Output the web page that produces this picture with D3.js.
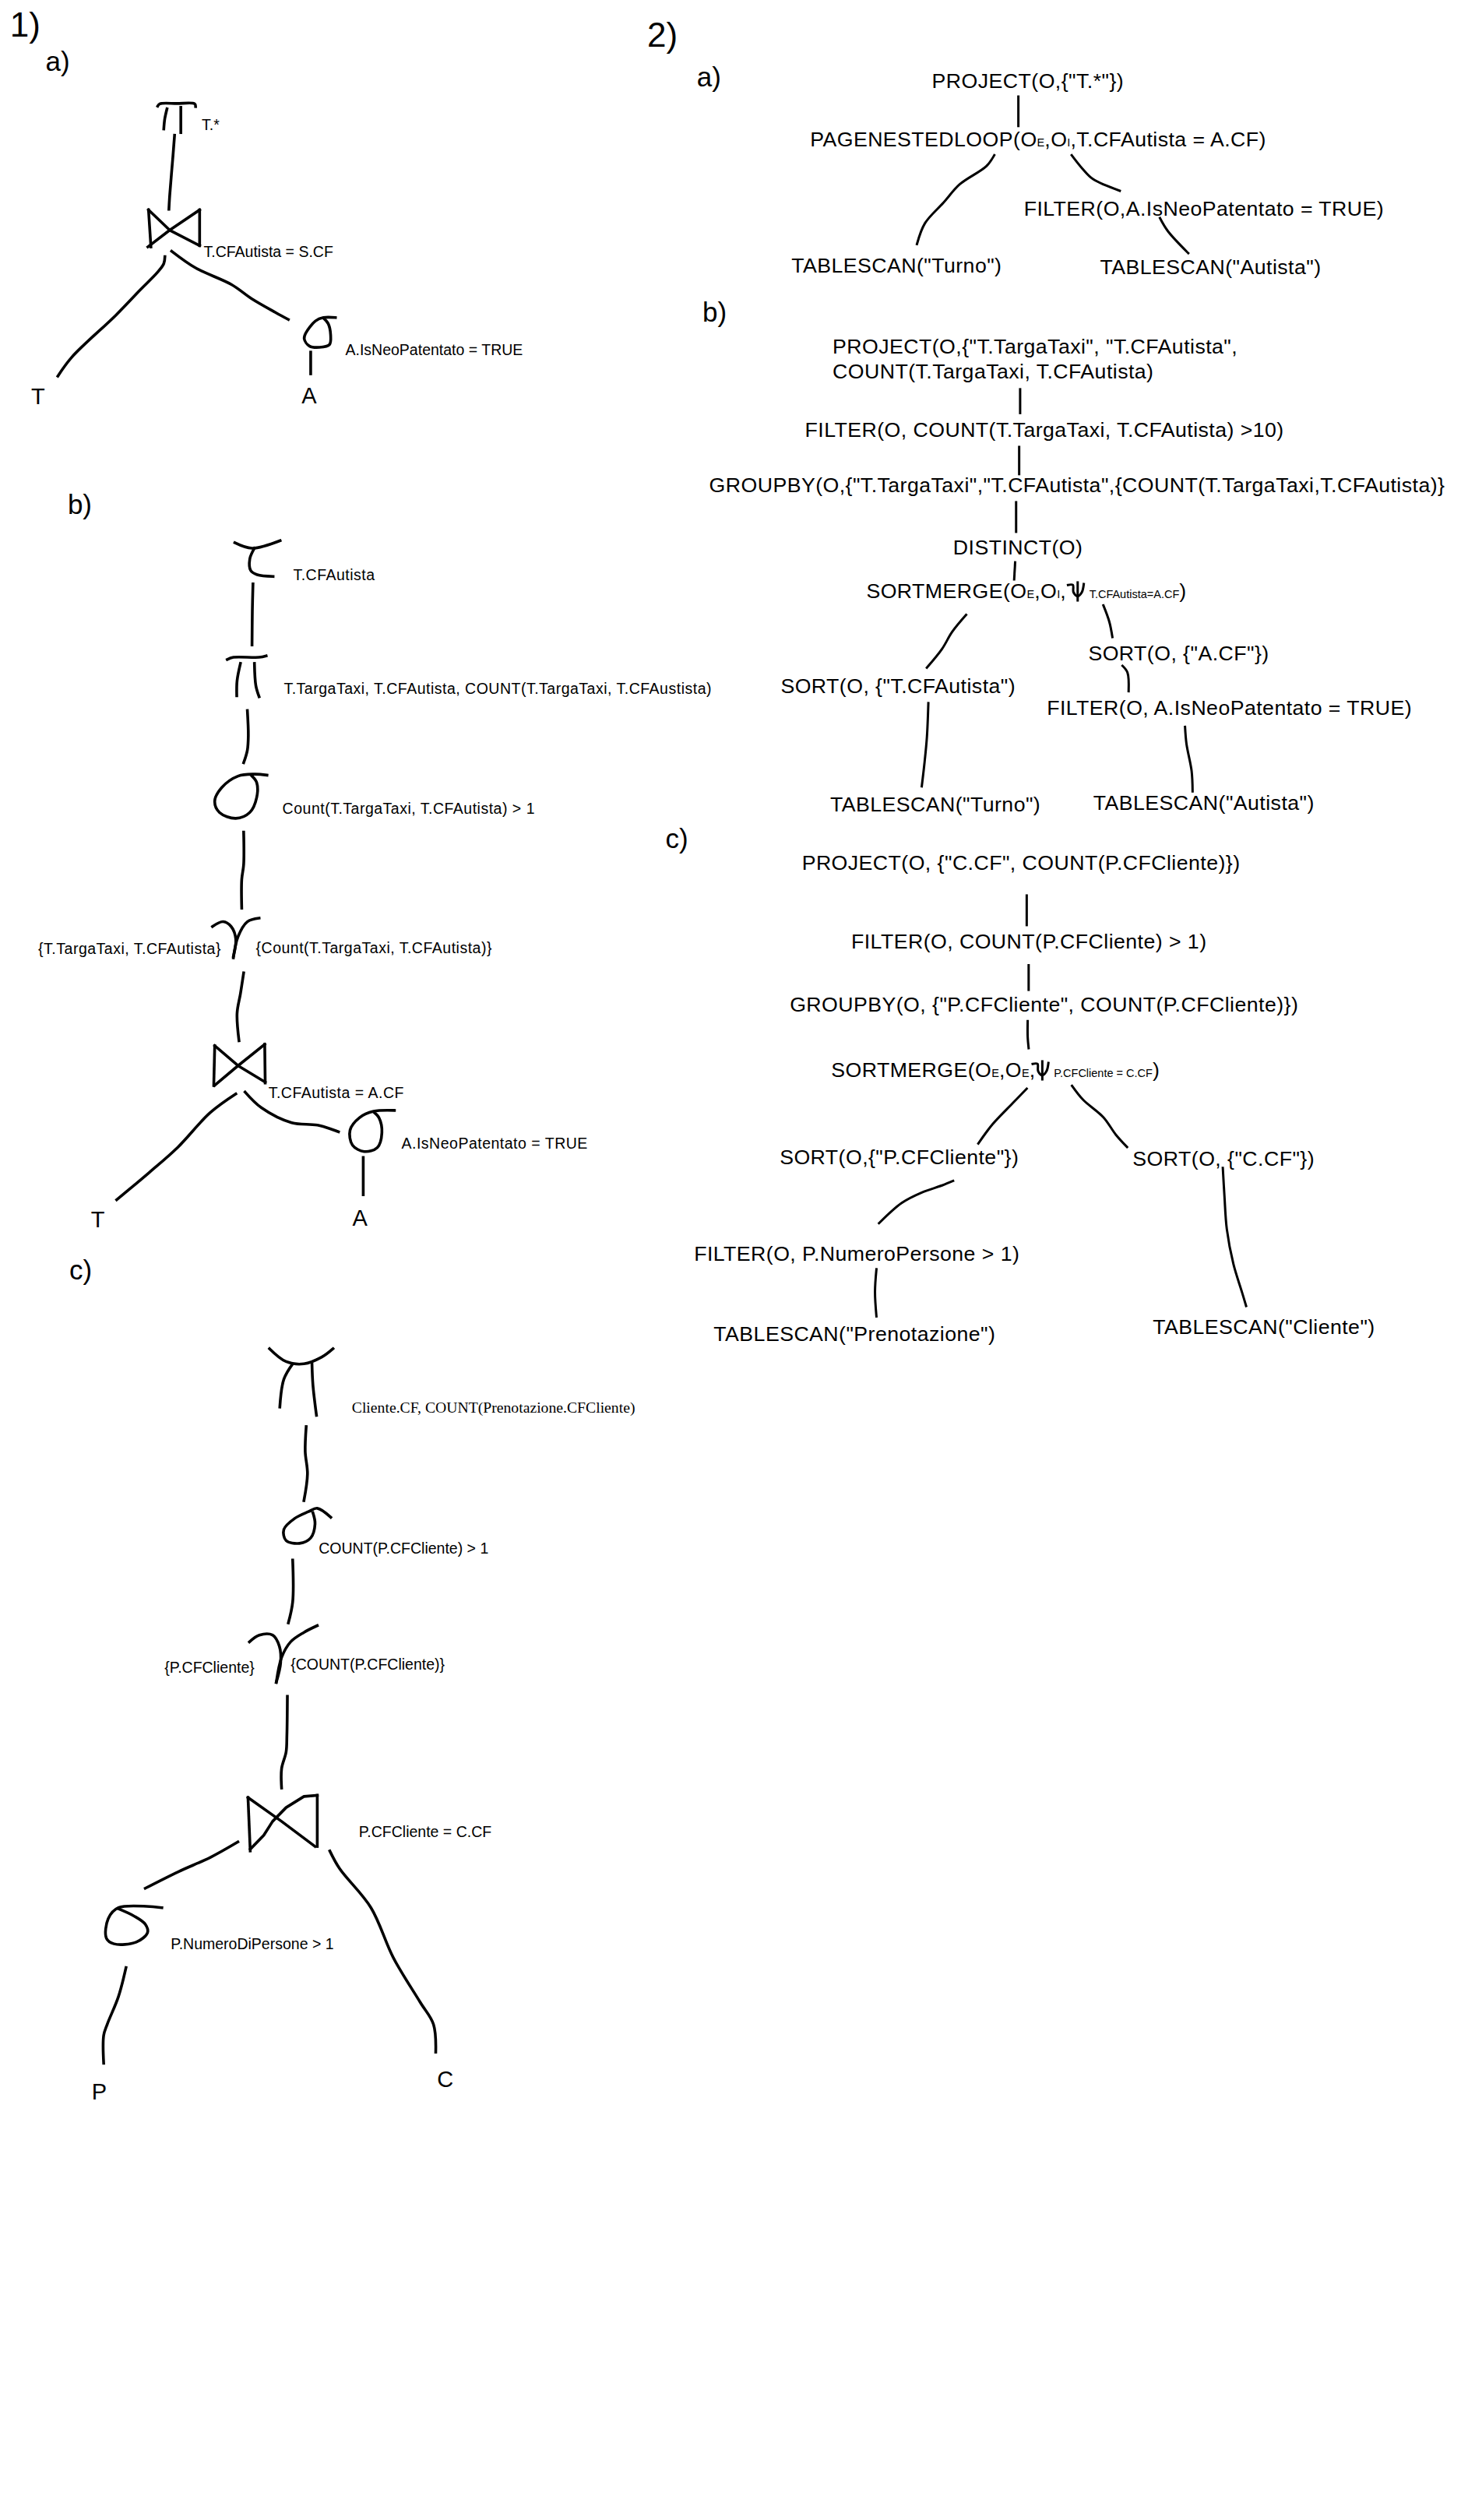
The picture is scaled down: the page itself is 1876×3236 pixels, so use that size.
<!DOCTYPE html>
<html>
<head>
<meta charset="utf-8">
<script src="https://cdn.jsdelivr.net/npm/d3@7"></script>
<style>
  body { margin: 0; background: #fff; }
  text { fill: #000; }
</style>
</head>
<body>
<div id="divChart"></div>
<script>
// coordinates below are in units of the reference sheet (909 x 1568), mapped by the scales
var heads = ["1)", "a)", "b)", "c)", "2)", "a)", "b)", "c)"];
var headAt = [[6.2, 22.6], [28.4, 44.3], [42.1, 320], [43.1, 796], [402.7, 29.1], [433.6, 53.6], [437.1, 199.9], [414, 527.8]];
var headBig = [1, 0, 0, 0, 1, 0, 0, 0];

// relations at the leaves of the algebra trees
var relations = ["T", "A", "T", "A", "P", "C"];
var relationAt = [[19.4, 251.7], [187.6, 250.9], [56.6, 763.5], [219.3, 762.9], [57, 1306.3], [272, 1298.4]];

// notes next to the operators (1a, 1b, 1c)
var raNotes = [
    "T.*", "T.CFAutista = S.CF", "A.IsNeoPatentato = TRUE",
    "T.CFAutista", "T.TargaTaxi, T.CFAutista, COUNT(T.TargaTaxi, T.CFAustista)",
    "Count(T.TargaTaxi, T.CFAutista) > 1", "{T.TargaTaxi, T.CFAutista}",
    "{Count(T.TargaTaxi, T.CFAutista)}", "T.CFAutista = A.CF", "A.IsNeoPatentato = TRUE",
    "Cliente.CF, COUNT(Prenotazione.CFCliente)", "COUNT(P.CFCliente) > 1", "{P.CFCliente}",
    "{COUNT(P.CFCliente)}", "P.CFCliente = C.CF", "P.NumeroDiPersone > 1"
];
var raNoteTree = ["a", "a", "a", "b", "b", "b", "b", "b", "b", "b", "c", "c", "c", "c", "c", "c"];
var raNoteAt = [
    [125.5, 80.7], [126.7, 160], [214.9, 220.8],
    [182.4, 361.2], [176.6, 431.9],
    [175.7, 506.4], [23.8, 593.6],
    [159.2, 593], [167, 683.2], [249.8, 714.7],
    [218.9, 879], [198.3, 966.5], [102.3, 1041],
    [180.8, 1038.9], [223.3, 1143], [106.2, 1212.9]
];
var raSerif = "Cliente.CF, COUNT(Prenotazione.CFCliente)";

// physical plans (2a, 2b, 2c)
var planText = [
    'PROJECT(O,{"T.*"})', 'FILTER(O,A.IsNeoPatentato = TRUE)', 'TABLESCAN("Turno")', 'TABLESCAN("Autista")',
    'PROJECT(O,{"T.TargaTaxi", "T.CFAutista",', 'COUNT(T.TargaTaxi, T.CFAutista)',
    'FILTER(O, COUNT(T.TargaTaxi, T.CFAutista) >10)',
    'GROUPBY(O,{"T.TargaTaxi","T.CFAutista",{COUNT(T.TargaTaxi,T.CFAutista)}',
    'DISTINCT(O)', 'SORT(O, {"A.CF"})', 'SORT(O, {"T.CFAutista")',
    'FILTER(O, A.IsNeoPatentato = TRUE)', 'TABLESCAN("Turno")', 'TABLESCAN("Autista")',
    'PROJECT(O, {"C.CF", COUNT(P.CFCliente)})', 'FILTER(O, COUNT(P.CFCliente) > 1)',
    'GROUPBY(O, {"P.CFCliente", COUNT(P.CFCliente)})', 'SORT(O,{"P.CFCliente"})', 'SORT(O, {"C.CF"})',
    'FILTER(O, P.NumeroPersone > 1)', 'TABLESCAN("Prenotazione")', 'TABLESCAN("Cliente")'
];
var planAt = [
    [579.8, 54.9], [637, 134.1], [492.4, 169.6], [684.4, 170.4],
    [518, 220], [518, 235.4],
    [500.8, 271.8],
    [441.2, 306.2],
    [593, 345], [677.1, 411.1], [485.7, 431.2],
    [651.3, 445], [516.5, 505.1], [680.2, 504.1],
    [498.9, 541.3], [529.6, 590.2],
    [491.4, 629.3], [485.1, 724.5], [704.7, 725.6],
    [431.8, 784.3], [444, 834.3], [717.2, 830]
];

// join operators with subscripts: [text, isSubscript]
var joinText = [
    [["PAGENESTEDLOOP(O", 0], ["E", 1], [",O", 0], ["I", 1], [",T.CFAutista = A.CF)", 0]],
    [["SORTMERGE(O", 0], ["E", 1], [",O", 0], ["I", 1], [",", 0], ["T.CFAutista=A.CF", 1], [")", 0]],
    [["SORTMERGE(O", 0], ["E", 1], [",O", 0], ["E", 1], [",", 0], ["P.CFCliente = C.CF", 1], [")", 0]]
];
var joinAt = [[504, 91.3], [539, 372.1], [517.1, 670.2]];
var joinPredAt = [null, 677.7, 655.7];   // where the predicate starts, after the psi
var psiAt = [[664.5, 372], [642.5, 670]];

// hand drawn edges of the algebra trees
var raEdges = [
    [[108.6, 84.2], [107.6, 97.2], [105.6, 121.5], [105.1, 130.2]],
    [[102.6, 159.7], [101.9, 164], [98.1, 169.3], [87, 180.6], [72, 196.2], [44.7, 222.2], [36, 234]],
    [[106.8, 156.3], [121.7, 166.7], [144.1, 177.1], [156.5, 185.8], [171.4, 194.4], [179.4, 198.8]],
    [[193.3, 219.1], [193.3, 232.6]],
    [[157.4, 363.3], [157, 380], [156.8, 401.3]],
    [[153.9, 442.1], [154.5, 457.6], [153.9, 466.8], [151.6, 474.6]],
    [[151.6, 517.8], [151.6, 537.9], [150.4, 547.2], [150.4, 565.1]],
    [[151.6, 605.3], [149.6, 618.3], [147.5, 630.6], [148.7, 647.6]],
    [[146.7, 680.7], [130.7, 692.4], [110.4, 714.1], [92.9, 729.5], [72.6, 746.5]],
    [[152.5, 679.5], [162.7, 689.3], [181.5, 698.6], [197.5, 700.1], [210.6, 704.2]],
    [[226, 720.2], [226, 743.4]],
    [[190.5, 887.7], [189.9, 903.2], [191.3, 917.1], [189.1, 933.7]],
    [[182.1, 970.7], [182.1, 996.7], [179.4, 1009.8]],
    [[178.8, 1055.5], [178.5, 1079.7], [178, 1090.1], [175.2, 1100.5], [175.2, 1112.6]],
    [[148, 1146.1], [130.7, 1155.8], [111.2, 1164.5], [90.4, 1174.9]],
    [[205.2, 1151.7], [211.3, 1162.7], [230.8, 1187], [244.7, 1218.1], [261.4, 1245.8], [269.7, 1259.6], [271.1, 1276.9]],
    [[78.4, 1224.3], [73.7, 1242.3], [66.7, 1259.6], [64.5, 1266.5], [64.5, 1283.8]]
];

// operator glyphs: pi, tau, sigma, gamma
var raGlyphs = [
    [[98.1, 66], [99.4, 64.6], [110, 64.4], [121.2, 64.6], [121.7, 66.3]],
    [[103.9, 67.7], [102.5, 74], [101.9, 80.2]],
    [[112.5, 66.8], [112.5, 82.5]],
    [[208.7, 197.6], [201.2, 197.6], [196.3, 199.7], [190.1, 207.5], [189.3, 210.9], [192.5, 215.3], [198.8, 216.1], [205, 214.4], [205.7, 208.3], [204.2, 201.4], [201.2, 197.9]],
    [[146.1, 337.7], [156.8, 341.1], [174.3, 336.4]],
    [[158.3, 341.1], [155.4, 347.9], [156, 355], [160, 357.6], [169.9, 358.7]],
    [[141.4, 410.3], [145.2, 409], [161.2, 409], [165.6, 408.1]],
    [[149.6, 412.8], [147.5, 423.6], [147.3, 432.9]],
    [[158.3, 412.8], [159.2, 426.7], [161.2, 433.5]],
    [[166.1, 482.3], [158.3, 481.7], [148.1, 482.9], [138, 490], [133.6, 498.4], [136.5, 505.5], [146.7, 509.2], [155.4, 505.5], [159.7, 496.2], [159.7, 486.9], [156.8, 482.9]],
    [[132.2, 576.5], [138.8, 573.5], [143.8, 576.5], [146.7, 584.3], [145.2, 595.1]],
    [[161.2, 571.3], [153.9, 573.5], [148.1, 582.8], [145.2, 596]],
    [[245.4, 690.9], [232.4, 691.5], [223.6, 695.5], [217.8, 703.2], [219.3, 712.5], [226.6, 716.5], [234.7, 714.1], [237.6, 704.8], [235.8, 695.5], [232.4, 691.8]],
    [[167.7, 839.2], [178, 847.2], [189.1, 848.6], [200.2, 844.4], [207.2, 839.2]],
    [[182.1, 848.6], [176.6, 858.2], [174.1, 875.5]],
    [[194.1, 848.6], [194.7, 861.7], [196.9, 880.7]],
    [[205.8, 944.1], [197.4, 938.5], [191.9, 940.6], [183.5, 944.7], [176.6, 951.7], [178, 958.6], [186.3, 960.3], [193.3, 956.9], [196, 948.2], [194.7, 941.3]],
    [[155.2, 1021.6], [161.3, 1017.4], [169.6, 1017.4], [173.8, 1024.3], [174.6, 1034.7], [171.9, 1046.8]],
    [[197.4, 1011.5], [189.1, 1015.7], [180.8, 1021.6], [175.2, 1031.3], [171.9, 1046.8]],
    [[100.7, 1187], [73.7, 1187], [67.3, 1193.9], [66.2, 1206], [70.9, 1209.5], [84.8, 1208.4], [91.8, 1202.5], [90.4, 1197.3], [83.4, 1192.2], [73.7, 1187.7]]
];

// join (bowtie) glyphs, straight strokes
var bowties = [
    [[92.4, 130.6], [93.9, 153.6]], [[92.4, 130.6], [105.6, 143.2], [124.2, 152.8]],
    [[124.2, 130.6], [124.2, 152.8]], [[124.2, 130.6], [105.6, 143.2], [92, 153.6]],
    [[133.6, 650.7], [133, 675.4]], [[133.6, 650.7], [148.1, 663.1], [165, 673.3]],
    [[164.7, 649.8], [165, 673.9]], [[164.7, 649.8], [148.1, 663.1], [133.4, 675.4]],
    [[154.3, 1118.5], [155.7, 1151.7]], [[154.3, 1118.5], [175.2, 1133.3], [196, 1148.9]],
    [[197.4, 1117.1], [197.4, 1148.9]], [[197.4, 1117.1], [189.1, 1117.8], [178, 1124.7], [169.6, 1133.3], [164.1, 1142], [155.7, 1150.6]]
];

// edges of the physical plans
var planEdges = [
    [[633.6, 60.1], [633.6, 78.4]],
    [[618.6, 96.6], [613.7, 103.4], [597.1, 114.7], [587.1, 126], [575.5, 138.9], [570.5, 151.9]],
    [[666.8, 96.6], [673.5, 105], [680.1, 111.5], [696.7, 118.7]],
    [[721.7, 135.7], [726.6, 143.8], [739.3, 157.5]],
    [[634.7, 242.2], [634.7, 257]],
    [[634.1, 278.1], [634.1, 295]],
    [[632.2, 312.5], [632.2, 330.9]],
    [[631.6, 349.9], [631, 360.5]],
    [[601.1, 382.6], [592.4, 393.2], [586.1, 403.8], [576.7, 415.4]],
    [[686.5, 376.7], [690.2, 386.9], [692.1, 396.4]],
    [[698.4, 414.3], [701.5, 418.5], [702.2, 430.1]],
    [[577.6, 437.5], [576.7, 458.7], [575.1, 475.6], [573.5, 489.3]],
    [[737.3, 452.3], [738.2, 462.9], [741.4, 479.8], [742, 492.4]],
    [[638.8, 557.2], [638.8, 575.6]],
    [[640, 600.6], [640, 615.9]],
    [[639.4, 635.4], [639.4, 645.2], [640, 652.2]],
    [[638.8, 677.4], [630, 686.5], [617.5, 699.6], [608.7, 711.5]],
    [[667, 675.6], [673.9, 684.3], [686.5, 695.2], [694.3, 706.1], [701.2, 713.7]],
    [[593, 734.8], [586.1, 737.6], [573.5, 742], [561, 748.5], [546.9, 761.1]],
    [[760.8, 726.7], [761.8, 743.8], [763.3, 764.8], [767.4, 786.5], [772.7, 803.9], [775.3, 812.6]],
    [[545.3, 789.8], [544.4, 803.9], [545.3, 819.1]]
];

// shape of the hand drawn psi, relative to its anchor
var psiShape = [
    [[0, -8], [3, -8], [3.4, -3.5], [6, -1], [8.6, -3.5], [9.8, -8.6]],
    [[6, -9.6], [6, 1.6]]
];

function init()
{
    var width = 1876;
    var height = 3236;
    var sans = "'Liberation Sans', Arial, sans-serif";

    var svg = d3.select("#divChart").append("svg")
        .attr("width", width)
        .attr("height", height)
        .style("background", "#fff");

    // reference units -> pixels
    var X = d3.scaleLinear().domain([0, 909]).range([0, width]);
    var Y = d3.scaleLinear().domain([0, 1568]).range([0, height]);

    var hand = d3.line()
        .x(function(d){ return X(d[0]); })
        .y(function(d){ return Y(d[1]); })
        .curve(d3.curveCatmullRom.alpha(0.5));
    var straight = d3.line()
        .x(function(d){ return X(d[0]); })
        .y(function(d){ return Y(d[1]); });

    function strokes(cls, data, gen, w)
    {
        svg.append("g").attr("class", cls)
            .selectAll("path")
            .data(data)
            .enter().append("path")
            .attr("d", gen)
            .style("fill", "none")
            .style("stroke", "#000")
            .style("stroke-width", w)
            .style("stroke-linecap", "square")
            .style("stroke-linejoin", "round");
    }

    strokes("ra-edges", raEdges, hand, 3.6);
    strokes("ra-glyphs", raGlyphs, hand, 3.6);
    strokes("bowties", bowties, straight, 3.6);
    strokes("plan-edges", planEdges, hand, 3);

    // section headings
    svg.append("g").selectAll("text")
        .data(heads)
        .enter().append("text")
        .attr("x", function(d, i){ return X(headAt[i][0]); })
        .attr("y", function(d, i){ return Y(headAt[i][1]); })
        .style("font-family", sans)
        .style("font-size", function(d, i){ return headBig[i] ? "44px" : "35px"; })
        .text(function(d){ return d; });

    // relation names
    svg.append("g").selectAll("text")
        .data(relations)
        .enter().append("text")
        .attr("x", function(d, i){ return X(relationAt[i][0]); })
        .attr("y", function(d, i){ return Y(relationAt[i][1]); })
        .style("font-family", sans)
        .style("font-size", "29px")
        .text(function(d){ return d; });

    // operator notes (tree b was typed with a looser spacing)
    svg.append("g").selectAll("text")
        .data(raNotes)
        .enter().append("text")
        .attr("x", function(d, i){ return X(raNoteAt[i][0]); })
        .attr("y", function(d, i){ return Y(raNoteAt[i][1]); })
        .style("font-family", function(d){ return d === raSerif ? "'Liberation Serif', 'Times New Roman', serif" : sans; })
        .style("font-size", function(d){ return d === raSerif ? "19.7px" : "19.5px"; })
        .style("letter-spacing", function(d, i){ return raNoteTree[i] === "b" ? "0.5px" : "0px"; })
        .text(function(d){ return d; });

    // plan operators
    svg.append("g").selectAll("text")
        .data(planText)
        .enter().append("text")
        .attr("x", function(d, i){ return X(planAt[i][0]); })
        .attr("y", function(d, i){ return Y(planAt[i][1]); })
        .style("font-family", sans)
        .style("font-size", "26.7px")
        .style("letter-spacing", "0.45px")
        .text(function(d){ return d; });

    // join operators with subscripts
    joinText.forEach(function(segs, k)
    {
        var t = svg.append("text")
            .attr("x", X(joinAt[k][0]))
            .attr("y", Y(joinAt[k][1]))
            .style("font-family", sans)
            .style("font-size", "26.7px")
            .style("letter-spacing", "0.45px");
        var subs = 0;
        segs.forEach(function(s)
        {
            var sp = t.append("tspan").text(s[0]);
            if (s[1]) {
                sp.style("font-size", "14.5px").style("letter-spacing", "0px");
                subs++;
                if (subs === 3 && joinPredAt[k] !== null) sp.attr("x", X(joinPredAt[k]));
            }
        });
    });

    // hand drawn psi of the sort-merge joins
    psiAt.forEach(function(p)
    {
        strokes("psi", psiShape.map(function(seg){
            return seg.map(function(q){ return [p[0] + q[0], p[1] + q[1]]; });
        }), hand, 3);
    });
}

window.onload = init;
</script>
</body>
</html>
